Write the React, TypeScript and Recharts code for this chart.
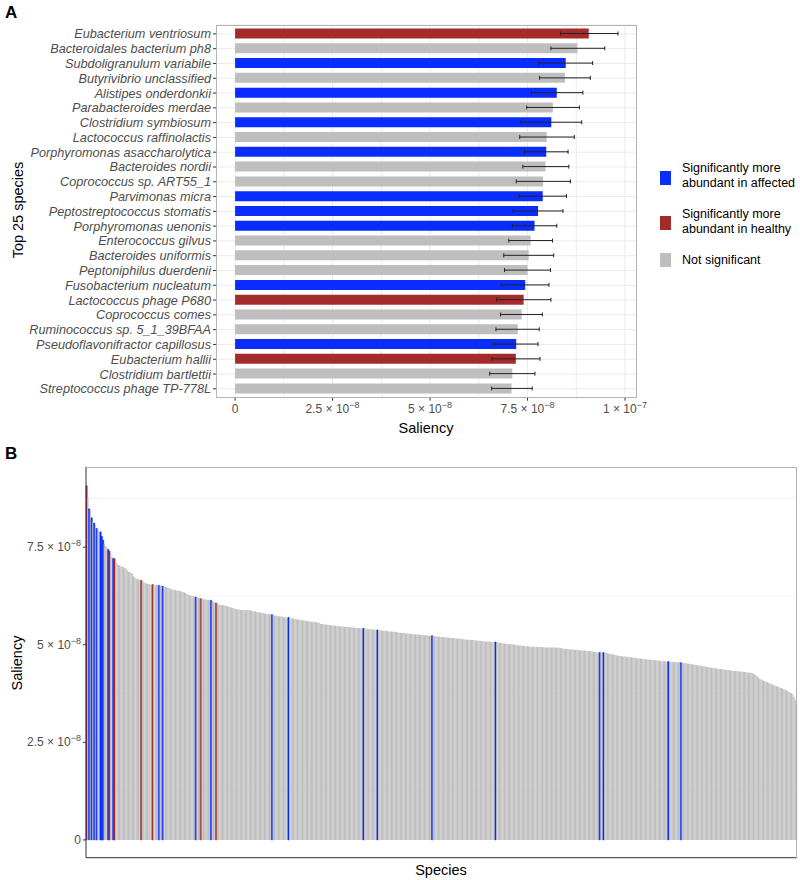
import React from "react";
import { BarChart, Bar, XAxis, YAxis, CartesianGrid, Cell, ErrorBar } from "recharts";

const FONT = '"Liberation Sans", Arial, Helvetica, sans-serif';

const AFFECTED = "#0a2cff";
const HEALTHY = "#a52a2a";
const NS = "#bebebe";

// Panel A: top 25 species (saliency in units of 1e-9)
const species = [
  "Eubacterium ventriosum",
  "Bacteroidales bacterium ph8",
  "Subdoligranulum variabile",
  "Butyrivibrio unclassified",
  "Alistipes onderdonkii",
  "Parabacteroides merdae",
  "Clostridium symbiosum",
  "Lactococcus raffinolactis",
  "Porphyromonas asaccharolytica",
  "Bacteroides nordii",
  "Coprococcus sp. ART55_1",
  "Parvimonas micra",
  "Peptostreptococcus stomatis",
  "Porphyromonas uenonis",
  "Enterococcus gilvus",
  "Bacteroides uniformis",
  "Peptoniphilus duerdenii",
  "Fusobacterium nucleatum",
  "Lactococcus phage P680",
  "Coprococcus comes",
  "Ruminococcus sp. 5_1_39BFAA",
  "Pseudoflavonifractor capillosus",
  "Eubacterium hallii",
  "Clostridium bartlettii",
  "Streptococcus phage TP-778L",
];
const speciesGroup = [
  "healthy", "ns", "affected", "ns", "affected", "ns", "affected", "ns", "affected", "ns",
  "ns", "affected", "affected", "affected", "ns", "ns", "ns", "affected", "healthy", "ns",
  "ns", "affected", "healthy", "ns", "ns",
];
const speciesSaliency = [
  90.7, 87.8, 84.8, 84.6, 82.5, 81.5, 81.1, 79.9, 79.8, 79.6,
  79.0, 78.9, 77.7, 76.8, 75.8, 75.3, 75.0, 74.4, 74.0, 73.5,
  72.5, 72.1, 72.0, 71.1, 70.9,
];
const speciesLow = [
  83.5, 81.0, 77.9, 78.1, 76.0, 74.8, 73.3, 73.0, 74.2, 73.8,
  72.1, 72.8, 71.3, 71.1, 70.2, 68.9, 69.1, 68.4, 67.1, 68.1,
  66.9, 66.5, 65.9, 65.3, 65.8,
];
const speciesHigh = [
  98.2, 94.8, 91.7, 91.1, 89.2, 88.3, 88.9, 87.0, 85.4, 85.6,
  86.0, 85.0, 84.1, 82.5, 81.4, 81.7, 80.9, 80.5, 81.0, 78.8,
  78.0, 77.7, 78.2, 76.9, 76.2,
];

// Panel B: every species sorted by saliency (units of 1e-9)
const allSaliency = [
  90.7, 87.8, 84.8, 84.6, 82.5, 81.5, 81.1, 79.9, 79.8, 79.6,
  79.0, 78.9, 77.7, 76.8, 75.8, 75.3, 75.0, 74.4, 74.0, 73.5,
  72.5, 72.1, 72.0, 71.1, 70.9, 70.4, 70.3, 70.1, 70.0, 69.9,
  69.6, 69.5, 69.1, 68.7, 68.6, 68.4, 68.2, 67.5, 67.2, 66.9,
  66.8, 66.7, 66.5, 66.5, 66.3, 66.1, 65.9, 65.7, 65.6, 65.5,
  65.5, 65.4, 65.4, 65.3, 65.3, 65.3, 65.2, 65.2, 65.2, 65.1,
  65.0, 64.9, 64.8, 64.7, 64.6, 64.5, 64.3, 64.2, 64.1, 64.1,
  64.0, 63.9, 63.9, 63.8, 63.7, 63.6, 63.5, 63.4, 63.2, 63.0,
  62.8, 62.7, 62.6, 62.5, 62.4, 62.3, 62.2, 62.1, 62.0, 61.9,
  61.8, 61.7, 61.7, 61.6, 61.6, 61.5, 61.5, 61.4, 61.4, 61.2,
  61.0, 60.8, 60.7, 60.5, 60.4, 60.3, 60.2, 60.2, 60.1, 60.0,
  59.9, 59.8, 59.7, 59.6, 59.5, 59.4, 59.3, 59.2, 59.1, 59.0,
  59.0, 58.9, 58.9, 58.9, 58.8, 58.8, 58.8, 58.8, 58.8, 58.8,
  58.7, 58.6, 58.5, 58.5, 58.4, 58.3, 58.3, 58.2, 58.2, 58.1,
  58.0, 58.0, 57.9, 57.9, 57.8, 57.8, 57.7, 57.6, 57.5, 57.5,
  57.4, 57.3, 57.3, 57.2, 57.2, 57.1, 57.1, 57.0, 57.0, 57.0,
  56.9, 56.8, 56.7, 56.7, 56.6, 56.5, 56.5, 56.4, 56.4, 56.3,
  56.3, 56.2, 56.2, 56.1, 56.1, 56.0, 56.0, 55.9, 55.9, 55.8,
  55.8, 55.7, 55.7, 55.6, 55.4, 55.3, 55.3, 55.2, 55.2, 55.1,
  55.1, 55.0, 55.0, 55.0, 54.9, 54.9, 54.9, 54.8, 54.8, 54.8,
  54.7, 54.7, 54.7, 54.6, 54.6, 54.6, 54.5, 54.5, 54.5, 54.4,
  54.4, 54.4, 54.3, 54.3, 54.3, 54.3, 54.2, 54.2, 54.2, 54.1,
  54.1, 54.1, 54.0, 54.0, 54.0, 53.9, 53.9, 53.9, 53.8, 53.8,
  53.8, 53.7, 53.7, 53.6, 53.6, 53.6, 53.5, 53.5, 53.4, 53.4,
  53.4, 53.3, 53.3, 53.3, 53.2, 53.2, 53.1, 53.1, 53.0, 53.0,
  53.0, 52.9, 52.9, 52.9, 52.8, 52.8, 52.8, 52.7, 52.7, 52.7,
  52.6, 52.6, 52.6, 52.5, 52.5, 52.5, 52.4, 52.4, 52.4, 52.3,
  52.3, 52.3, 52.3, 52.2, 52.2, 52.2, 52.1, 52.1, 52.0, 52.0,
  52.0, 51.9, 51.9, 51.9, 51.8, 51.8, 51.8, 51.7, 51.7, 51.7,
  51.6, 51.6, 51.6, 51.5, 51.5, 51.5, 51.4, 51.4, 51.4, 51.3,
  51.3, 51.3, 51.3, 51.2, 51.2, 51.2, 51.1, 51.1, 51.0, 51.0,
  51.0, 50.9, 50.9, 50.9, 50.8, 50.8, 50.8, 50.8, 50.7, 50.7,
  50.7, 50.7, 50.7, 50.6, 50.6, 50.5, 50.5, 50.4, 50.4, 50.3,
  50.3, 50.2, 50.2, 50.1, 50.1, 50.1, 50.0, 50.0, 49.9, 49.9,
  49.8, 49.8, 49.8, 49.7, 49.7, 49.7, 49.6, 49.6, 49.6, 49.5,
  49.5, 49.5, 49.5, 49.4, 49.4, 49.4, 49.4, 49.4, 49.4, 49.4,
  49.3, 49.3, 49.3, 49.3, 49.3, 49.3, 49.3, 49.3, 49.3, 49.3,
  49.3, 49.2, 49.2, 49.1, 49.1, 49.0, 49.0, 48.9, 48.9, 48.9,
  48.8, 48.8, 48.8, 48.8, 48.7, 48.7, 48.7, 48.6, 48.6, 48.6,
  48.5, 48.5, 48.5, 48.5, 48.4, 48.4, 48.4, 48.3, 48.3, 48.2,
  48.2, 48.1, 48.1, 48.0, 48.0, 48.0, 48.0, 48.0, 47.9, 47.9,
  47.8, 47.7, 47.7, 47.6, 47.5, 47.5, 47.4, 47.3, 47.2, 47.2,
  47.1, 47.1, 47.0, 47.0, 47.0, 46.9, 46.9, 46.8, 46.8, 46.8,
  46.7, 46.7, 46.6, 46.6, 46.5, 46.5, 46.5, 46.4, 46.4, 46.3,
  46.3, 46.3, 46.2, 46.2, 46.1, 46.1, 46.1, 46.0, 46.0, 46.0,
  45.9, 45.9, 45.9, 45.8, 45.8, 45.8, 45.8, 45.7, 45.7, 45.7,
  45.6, 45.6, 45.6, 45.6, 45.5, 45.5, 45.5, 45.5, 45.4, 45.4,
  45.3, 45.3, 45.2, 45.2, 45.1, 45.1, 45.0, 45.0, 44.9, 44.9,
  44.8, 44.7, 44.7, 44.6, 44.6, 44.5, 44.5, 44.4, 44.3, 44.3,
  44.2, 44.2, 44.1, 44.1, 44.0, 44.0, 43.9, 43.9, 43.8, 43.8,
  43.7, 43.7, 43.6, 43.6, 43.5, 43.5, 43.5, 43.4, 43.4, 43.3,
  43.3, 43.3, 43.2, 43.2, 43.2, 43.1, 43.1, 43.1, 43.0, 43.0,
  42.9, 42.9, 42.8, 42.8, 42.7, 42.6, 42.4, 42.2, 41.9, 41.6,
  41.3, 41.1, 41.0, 40.8, 40.7, 40.5, 40.4, 40.2, 40.1, 40.0,
  39.8, 39.7, 39.5, 39.4, 39.3, 39.2, 39.0, 38.9, 38.8, 38.6,
  38.5, 38.3, 38.1, 37.9, 37.7, 37.5, 37.2, 36.6, 35.8, 35.0,
];
// positions (0-based rank) of the significant species in panel B
const affectedRanks = [2, 4, 6, 8, 11, 12, 13, 17, 21, 57, 60, 86, 98, 146, 159, 218, 229, 272, 322, 404, 407, 458, 468];
const healthyRanks = [0, 18, 22, 43, 52, 90, 102];

const groupColor: Record<string, string> = { affected: AFFECTED, healthy: HEALTHY, ns: NS };

const topData = species.map((name, i) => ({
  name,
  value: speciesSaliency[i],
  err: [speciesSaliency[i] - speciesLow[i], speciesHigh[i] - speciesSaliency[i]],
  group: speciesGroup[i],
}));

const allData = allSaliency.map((v, i) => ({
  rank: i + 1,
  value: v,
  group: affectedRanks.includes(i) ? "affected" : healthyRanks.includes(i) ? "healthy" : "ns",
}));

function sciParts(v: number) {
  if (v === 0) return { m: "0", e: "" };
  const real = v * 1e-9;
  const e = Math.floor(Math.log10(real) + 1e-9);
  const m = +(real / Math.pow(10, e)).toFixed(2);
  return { m: `${m} \u00d7 10`, e: `\u2212${-e}` };
}

const SciTickX = (props: any) => {
  const { x, y, payload } = props;
  const { m, e } = sciParts(payload.value);
  return (
    <text x={x} y={y} dy={10} textAnchor="middle" fill="#4d4d4d" fontSize={12} fontFamily={FONT}>
      <tspan>{m}</tspan>
      {e && (
        <tspan dy={-5} fontSize={9}>
          {e}
        </tspan>
      )}
    </text>
  );
};

const SciTickY = (props: any) => {
  const { x, y, payload } = props;
  const { m, e } = sciParts(payload.value);
  return (
    <text x={x} y={y} dy={4} textAnchor="end" fill="#4d4d4d" fontSize={12} fontFamily={FONT}>
      <tspan>{m}</tspan>
      {e && (
        <tspan dy={-5} fontSize={9}>
          {e}
        </tspan>
      )}
    </text>
  );
};

const SpeciesTick = (props: any) => {
  const { x, y, payload } = props;
  return (
    <text x={x} y={y} dy={4.5} textAnchor="end" fill="#4d4d4d" fontSize={12.7} fontStyle="italic" fontFamily={FONT}>
      {payload.value}
    </text>
  );
};

const abs = (left: number, top: number, extra: React.CSSProperties = {}): React.CSSProperties => ({
  position: "absolute",
  left,
  top,
  whiteSpace: "nowrap",
  lineHeight: 1,
  ...extra,
});

const title: React.CSSProperties = { fontSize: 14.5, color: "#000", transform: "translate(-50%, -50%)" };

const legendItems = [
  { group: "affected", lines: ["Significantly more", "abundant in affected"], keyTop: 170.5, textTop: 160.5 },
  { group: "healthy", lines: ["Significantly more", "abundant in healthy"], keyTop: 215.7, textTop: 206.8 },
  { group: "ns", lines: ["Not significant"], keyTop: 253, textTop: 253 },
];

export default function App() {
  return (
    <div style={{ position: "absolute", left: 0, top: 0, width: 800, height: 880, background: "#fff", fontFamily: FONT }}>
      {/* Panel A */}
      <div style={{ position: "absolute", left: 0, top: 0 }}>
        <BarChart width={660} height={440} data={topData} layout="vertical" margin={{ top: 25, right: 23.3, bottom: 0, left: 0 }}>
          <CartesianGrid stroke="#ebebeb" verticalValues={[0, 12.5, 25, 37.5, 50, 62.5, 75, 87.5, 100]} />
          <XAxis
            type="number"
            domain={[-4.9, 103]}
            allowDataOverflow
            ticks={[0, 25, 50, 75, 100]}
            height={42.3}
            axisLine={false}
            tickLine={{ stroke: "#333" }}
            tickSize={3}
            tick={SciTickX}
          />
          <YAxis
            type="category"
            dataKey="name"
            width={216}
            interval={0}
            axisLine={false}
            tickLine={{ stroke: "#333" }}
            tickSize={3}
            tick={SpeciesTick}
            padding={{ top: 1.5, bottom: 1.5 }}
          />
          <Bar dataKey="value" barSize={10} isAnimationActive={false}>
            {topData.map((d, i) => (
              <Cell key={i} fill={groupColor[d.group]} />
            ))}
            <ErrorBar dataKey="err" direction="x" width={2} stroke="#222" strokeWidth={1} isAnimationActive={false} />
          </Bar>
        </BarChart>
      </div>
      <div style={abs(216, 25, { width: 420.7, height: 372.7, border: "1px solid #b3b3b3", boxSizing: "border-box" })} />

      <div style={abs(5, 4, { fontSize: 17, fontWeight: "bold" })}>A</div>
      <div style={abs(18, 210, { ...title, transform: "translate(-50%, -50%) rotate(-90deg)" })}>Top 25 species</div>
      <div style={abs(426, 428, title)}>Saliency</div>

      {legendItems.map((it) => (
        <React.Fragment key={it.group}>
          <div style={abs(660, it.keyTop, { width: 10.7, height: 14.3, background: groupColor[it.group] })} />
          <div style={abs(682, it.textTop, { fontSize: 12.5, lineHeight: "15px", color: "#000" })}>
            {it.lines.map((l) => (
              <div key={l}>{l}</div>
            ))}
          </div>
        </React.Fragment>
      ))}

      {/* Panel B */}
      <div style={{ position: "absolute", left: 0, top: 440 }}>
        <BarChart width={800} height={440} data={allData} margin={{ top: 26.7, right: 2.7, bottom: 0, left: 0 }} barCategoryGap={0}>
          <CartesianGrid vertical={false} stroke="#f2f2f2" horizontalValues={[12.5, 37.5, 62.5, 87.5]} />
          <XAxis dataKey="rank" height={22.3} tick={false} tickLine={false} axisLine={{ stroke: "#333" }} />
          <YAxis
            type="number"
            domain={[-4.55, 95.6]}
            allowDataOverflow
            ticks={[0, 25, 50, 75]}
            width={86}
            axisLine={{ stroke: "#333" }}
            tickLine={{ stroke: "#333" }}
            tickSize={3}
            tick={SciTickY}
          />
          <Bar dataKey="value" barSize={1.2} isAnimationActive={false}>
            {allData.map((d, i) => (
              <Cell
                key={i}
                fill={groupColor[d.group]}
                stroke={d.group === "ns" ? "none" : groupColor[d.group]}
                strokeWidth={d.group === "ns" ? 0 : 0.6}
              />
            ))}
          </Bar>
        </BarChart>
      </div>
      <div
        style={abs(86, 466.7, {
          width: 711.3,
          height: 391,
          borderTop: "1px solid #b3b3b3",
          borderRight: "1px solid #b3b3b3",
          boxSizing: "border-box",
        })}
      />

      <div style={abs(5, 445, { fontSize: 17, fontWeight: "bold" })}>B</div>
      <div style={abs(17, 663, { ...title, transform: "translate(-50%, -50%) rotate(-90deg)" })}>Saliency</div>
      <div style={abs(441, 870, title)}>Species</div>
    </div>
  );
}
